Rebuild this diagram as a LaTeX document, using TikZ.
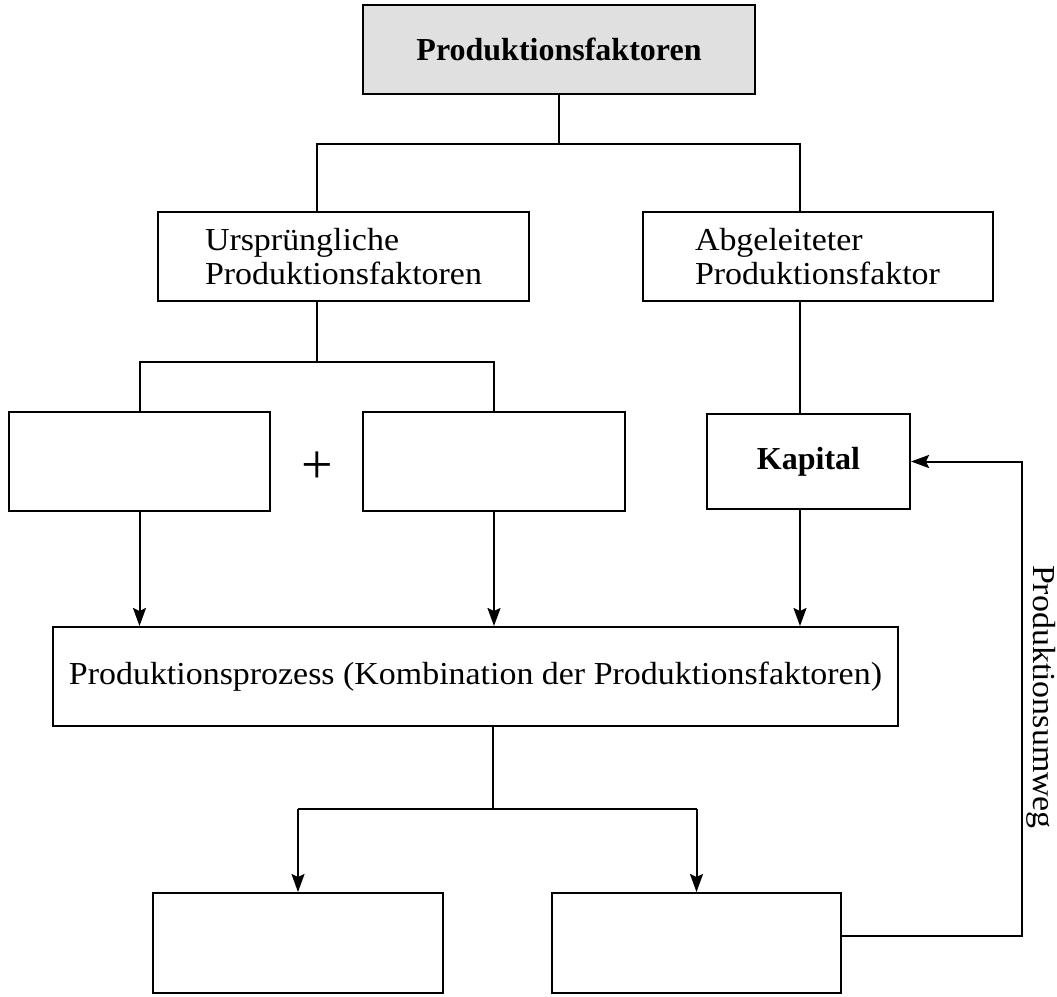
\documentclass[tikz,border=0pt]{standalone}
\usepackage{fontspec}
\setmainfont{Liberation Serif}
\newfontfamily\regfont{Liberation Serif}[FakeStretch=1.06]
\usetikzlibrary{arrows.meta}
\definecolor{topfill}{RGB}{224,224,224}
\begin{document}
\begin{tikzpicture}[x=1pt,y=-1pt,
  box/.style={draw, line width=2pt, inner sep=0pt, align=left,
    font={\regfont\fontsize{32}{34}\selectfont}},
  boldbox/.style={draw, line width=2pt, inner sep=0pt,
    font={\bfseries\fontsize{32}{34}\selectfont}},
  conn/.style={draw, line width=2pt},
  arr/.style={conn, -{Stealth[length=18pt,width=13pt,inset=3pt]}},
  lbl/.style={inner sep=0pt, font={\regfont\fontsize{32}{34}\selectfont}}]
\useasboundingbox (0,0) rectangle (1057,996);
% nodes
\node[boldbox, fill=topfill, minimum width=392pt, minimum height=89pt] (top) at (559,49.5) {Produktionsfaktoren};
\node[box, minimum width=371pt, minimum height=89pt] (urs) at (343.5,256.5) {Ursprüngliche\\Produktionsfaktoren};
\node[box, minimum width=350pt, minimum height=89pt] (abg) at (817.5,256.5) {Abgeleiteter\\Produktionsfaktor};
\node[box, minimum width=261pt, minimum height=99pt] (b1) at (139.5,461.5) {};
\node[box, minimum width=262pt, minimum height=99pt] (b2) at (494,461.5) {};
\node[inner sep=0pt, font={\fontsize{56}{58}\selectfont}] (plus) at (317,468) {+};
\node[boldbox, minimum width=203pt, minimum height=95pt] (kap) at (808.5,461.5) {Kapital};
\node[box, minimum width=845pt, minimum height=99pt] (proz) at (475.5,676.5) {Produktionsprozess (Kombination der Produktionsfaktoren)};
\node[box, minimum width=290pt, minimum height=100pt] (e1) at (298,943) {};
\node[box, minimum width=289pt, minimum height=100pt] (e2) at (696.5,943) {};
\node[lbl, rotate=-90] (umweg) at (1041,697) {Produktionsumweg};
% junction coordinates
\coordinate (j1) at (317,144);
\coordinate (j2) at (800,144);
\coordinate (j3) at (317,362);
\coordinate (j4) at (493,809);
\coordinate (fb) at (1022,936);
% connectors
\path[conn] (top.south) -- (top.south |- j1);
\path[conn] (urs.north -| j1) -- (j1) -- (j2) -- (abg.north -| j2);
\path[conn] (urs.south -| j3) -- (j3);
\path[conn] (b1.north) -- (b1.north |- j3) -- (b2.north |- j3) -- (b2.north);
\path[conn] (abg.south -| j2) -- (kap.north -| j2);
\path[arr] (b1.south) -- (b1.south |- proz.north);
\path[arr] (b2.south) -- (b2.south |- proz.north);
\path[arr] (kap.south -| j2) -- (proz.north -| j2);
\path[conn] (proz.south -| j4) -- (j4);
\path[conn] (e1.north |- j4) -- (e2.north |- j4);
\path[arr] (e1.north |- j4) -- (e1.north);
\path[arr] (e2.north |- j4) -- (e2.north);
\path[arr] (e2.east |- fb) -- (fb) -- (fb |- kap.east) -- (kap.east);
\end{tikzpicture}
\end{document}
